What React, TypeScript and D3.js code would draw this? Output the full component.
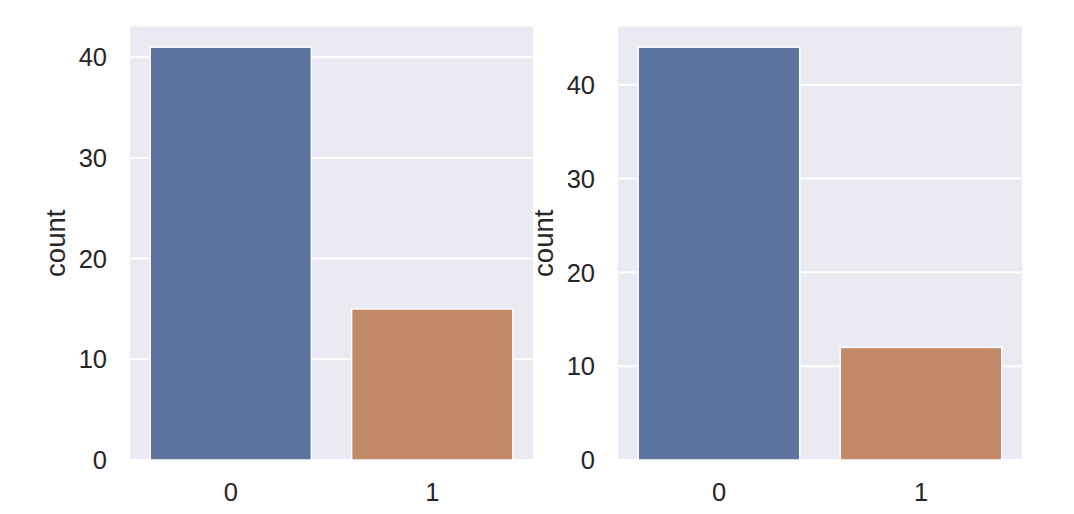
import React from "react";
import * as d3 from "d3";

const categories = ["0", "1"];
const leftCounts = [41, 15];
const rightCounts = [44, 12];
const yTicks = [0, 10, 20, 30, 40];
const barColors = ["#5E74A0", "#C28A67"];

const W = 1074;
const H = 514;
const TOP = 26.5;
const BOTTOM = 460;
const FONT = "'Liberation Sans', Arial, 'DejaVu Sans', sans-serif";
const TEXT = "#262626";

function Panel({ counts, x0, x1, labelX }: { counts: number[]; x0: number; x1: number; labelX: number }) {
  const maxV = d3.max(counts) as number;
  const y = d3.scaleLinear().domain([0, maxV * 1.05]).range([BOTTOM, TOP]);
  const x = d3.scaleBand<string>().domain(categories).range([x0, x1]).paddingInner(0.2).paddingOuter(0.1);
  return (
    <g>
      <rect x={x0} y={TOP} width={x1 - x0} height={BOTTOM - TOP} fill="#EAEAF2" />
      {yTicks.map((t) => (
        <line key={"g" + t} x1={x0} x2={x1} y1={y(t)} y2={y(t)} stroke="#FFFFFF" strokeWidth={2} />
      ))}
      {categories.map((c, i) => (
        <rect
          key={"b" + c}
          x={x(c)}
          y={y(counts[i])}
          width={x.bandwidth()}
          height={y(0) - y(counts[i])}
          fill={barColors[i]}
          stroke="#FFFFFF"
          strokeWidth={1.5}
        />
      ))}
      {yTicks.map((t) => (
        <text key={"t" + t} x={x0 - 23} y={y(t)} dy="0.36em" textAnchor="end" fontSize={25.5} fontFamily={FONT} fill={TEXT}>
          {t}
        </text>
      ))}
      {categories.map((c) => (
        <text
          key={"x" + c}
          x={(x(c) as number) + x.bandwidth() / 2}
          y={501}
          textAnchor="middle"
          fontSize={25.5}
          fontFamily={FONT}
          fill={TEXT}
        >
          {c}
        </text>
      ))}
      <text
        transform={`translate(${labelX},${(TOP + BOTTOM) / 2}) rotate(-90)`}
        textAnchor="middle"
        fontSize={27.5}
        fontFamily={FONT}
        fill={TEXT}
      >
        count
      </text>
    </g>
  );
}

export default function App() {
  return (
    <svg width={W} height={H} style={{ position: "absolute", left: 0, top: 0, background: "#FFFFFF" }}>
      <rect x={0} y={0} width={W} height={H} fill="#FFFFFF" />
      <Panel counts={leftCounts} x0={130} x1={533} labelX={65} />
      <Panel counts={rightCounts} x0={618} x1={1022} labelX={553} />
    </svg>
  );
}
